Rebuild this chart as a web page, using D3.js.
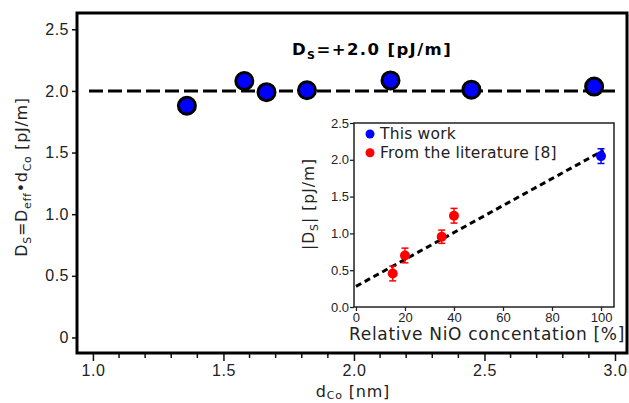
<!DOCTYPE html>
<html><head><meta charset="utf-8">
<script src="https://cdn.jsdelivr.net/npm/d3@7"></script>
<style>body{margin:0;background:#fff}svg{display:block;font-family:"DejaVu Sans",sans-serif}</style>
</head><body><svg id="c" width="629" height="403"></svg>
<script>
// Main panel data
const dCo = [1.36, 1.58, 1.665, 1.82, 2.14, 2.45, 2.92];
const Ds = [1.88, 2.08, 1.99, 2.005, 2.085, 2.01, 2.035];
const DsMean = 2.0;
const mainXTicks = [1.0, 1.5, 2.0, 2.5, 3.0];
const mainYTicks = [0, 0.5, 1.0, 1.5, 2.0, 2.5];
const mainYTickLabels = ["0", "0.5", "1.0", "1.5", "2.0", "2.5"];
// Inset data
const litConc = [15, 20, 35, 40];
const litDs = [0.455, 0.70, 0.955, 1.24];
const litErr = [0.1, 0.1, 0.09, 0.1];
const thisConc = [100];
const thisDs = [2.05];
const thisErr = [0.1];
const fitIntercept = 0.28, fitSlope = 0.0183;
const fitRange = [0, 101];
const insetXTicks = [0, 20, 40, 60, 80, 100];
const insetYTicks = [0.0, 0.5, 1.0, 1.5, 2.0, 2.5];

const svg = d3.select("#c");
const txt = "#222";

// ---- main ----
const L = 77, R = 627, T = 13, B = 353;
const x = d3.scaleLinear().domain([0.939, 3.046]).range([L, R]);
const y = d3.scaleLinear().domain([-0.126, 2.632]).range([B, T]);

const xAxis = d3.axisBottom(x).tickValues(mainXTicks).tickFormat(d3.format(".1f")).tickSize(8).tickSizeOuter(0);
const gx = svg.append("g").attr("transform", `translate(0,${B})`).call(xAxis);
gx.select(".domain").remove();
gx.selectAll("line").attr("stroke", "#111").attr("stroke-width", 1.5);
gx.selectAll("text").attr("font-size", 16).attr("fill", txt).attr("dy", "0.75em").attr("letter-spacing", 0.5);
// minor ticks
const minor = d3.range(10, 31).map(d => d / 10).filter(d => !mainXTicks.some(t => Math.abs(t - d) < 1e-6));
svg.append("g").selectAll("line").data(minor).join("line")
  .attr("x1", d => x(d)).attr("x2", d => x(d)).attr("y1", B).attr("y2", B + 5)
  .attr("stroke", "#111").attr("stroke-width", 1.5);

const yAxis = d3.axisLeft(y).tickValues(mainYTicks).tickFormat((d, i) => mainYTickLabels[i]).tickSize(5).tickSizeOuter(0);
const gy = svg.append("g").attr("transform", `translate(${L},0)`).call(yAxis);
gy.select(".domain").remove();
gy.selectAll("line").attr("stroke", "#111").attr("stroke-width", 1.5);
gy.selectAll("text").attr("font-size", 16).attr("fill", txt).attr("x", -8).attr("letter-spacing", 0.5);

svg.append("rect").attr("x", L).attr("y", T).attr("width", R - L).attr("height", B - T)
  .attr("fill", "none").attr("stroke", "#000").attr("stroke-width", 3);

// dashed mean line
svg.append("line").attr("x1", x(0.985)).attr("x2", x(3.0)).attr("y1", y(DsMean)).attr("y2", y(DsMean))
  .attr("stroke", "#000").attr("stroke-width", 3).attr("stroke-dasharray", "14,5");

svg.append("g").selectAll("circle").data(dCo).join("circle")
  .attr("cx", d => x(d)).attr("cy", (d, i) => y(Ds[i])).attr("r", 8.5)
  .attr("fill", "#0000ff").attr("stroke", "#000").attr("stroke-width", 3);

// annotation
const ann = svg.append("text").attr("x", 292).attr("y", 55).attr("font-size", 16.5).attr("font-weight", "bold").attr("fill", "#000").attr("letter-spacing", 1.4);
ann.append("tspan").text("D");
ann.append("tspan").text("S").attr("font-size", 11).attr("dy", 4);
ann.append("tspan").text("=+2.0 [pJ/m]").attr("dy", -4);

// y label
const yl = svg.append("text").attr("transform", "translate(27,177) rotate(-90)").attr("text-anchor", "middle")
  .attr("font-size", 16).attr("fill", txt).attr("letter-spacing", 0.7);
yl.append("tspan").text("D");
yl.append("tspan").text("S").attr("font-size", 11).attr("dy", 4);
yl.append("tspan").text("=D").attr("dy", -4);
yl.append("tspan").text("eff").attr("font-size", 11).attr("dy", 4);
yl.append("tspan").text("•d").attr("dy", -4);
yl.append("tspan").text("Co").attr("font-size", 11).attr("dy", 4);
yl.append("tspan").text(" [pJ/m]").attr("dy", -4);

// x label
const xl = svg.append("text").attr("x", 353).attr("y", 396.5).attr("text-anchor", "middle").attr("font-size", 16).attr("fill", txt).attr("letter-spacing", 0.8);
xl.append("tspan").text("d");
xl.append("tspan").text("Co").attr("font-size", 11).attr("dy", 2.5);
xl.append("tspan").text(" [nm]").attr("dy", -2.5);

// ---- inset ----
const iL = 354, iR = 614, iT = 123, iB = 307;
const ix = d3.scaleLinear().domain([-0.8, 105.3]).range([iL, iR]);
const iy = d3.scaleLinear().domain([0, 2.5]).range([iB, iT]);

svg.append("rect").attr("x", iL).attr("y", iT).attr("width", iR - iL).attr("height", iB - iT)
  .attr("fill", "#fff").attr("stroke", "#222").attr("stroke-width", 1.5);

const igx = svg.append("g").attr("transform", `translate(0,${iB})`)
  .call(d3.axisBottom(ix).tickValues(insetXTicks).tickSize(4).tickSizeOuter(0));
igx.select(".domain").remove();
igx.selectAll("line").attr("stroke", "#222").attr("stroke-width", 1.3);
igx.selectAll("text").attr("font-size", 13).attr("fill", txt).attr("dy", "0.6em");

const igy = svg.append("g").attr("transform", `translate(${iL},0)`)
  .call(d3.axisLeft(iy).tickValues(insetYTicks).tickFormat(d3.format(".1f")).tickSize(4).tickSizeOuter(0));
igy.select(".domain").remove();
igy.selectAll("line").attr("stroke", "#222").attr("stroke-width", 1.3);
igy.selectAll("text").attr("font-size", 13).attr("fill", txt).attr("x", -5);

// fit line
svg.append("line").attr("x1", ix(fitRange[0])).attr("y1", iy(fitIntercept + fitSlope * fitRange[0]))
  .attr("x2", ix(fitRange[1])).attr("y2", iy(fitIntercept + fitSlope * fitRange[1]))
  .attr("stroke", "#000").attr("stroke-width", 3).attr("stroke-dasharray", "6,4");

function errPts(conc, vals, errs, color) {
  const g = svg.append("g");
  conc.forEach((c, i) => {
    const cx = ix(c), v = vals[i], e = errs[i];
    g.append("line").attr("x1", cx).attr("x2", cx).attr("y1", iy(v - e)).attr("y2", iy(v + e)).attr("stroke", color).attr("stroke-width", 1.5);
    [v - e, v + e].forEach(w => g.append("line").attr("x1", cx - 3.5).attr("x2", cx + 3.5).attr("y1", iy(w)).attr("y2", iy(w)).attr("stroke", color).attr("stroke-width", 1.5));
    g.append("circle").attr("cx", cx).attr("cy", iy(v)).attr("r", 5).attr("fill", color);
  });
}
errPts(litConc, litDs, litErr, "#ff0000");
errPts(thisConc, thisDs, thisErr, "#0000ff");

// legend
const legend = [["This work", "#0000ff"], ["From the literature [8]", "#ff0000"]];
legend.forEach((d, i) => {
  svg.append("circle").attr("cx", 370).attr("cy", 134 + i * 18.7).attr("r", 4.5).attr("fill", d[1]);
  svg.append("text").attr("x", 380).attr("y", 134 + i * 18.7).attr("dy", "0.35em").attr("font-size", 15.5).attr("fill", txt).attr("letter-spacing", 0.2).text(d[0]);
});

// inset labels
const iyl = svg.append("text").attr("transform", "translate(314,204) rotate(-90)").attr("text-anchor", "middle").attr("font-size", 15.5).attr("fill", txt).attr("letter-spacing", 1);
iyl.append("tspan").text("|D");
iyl.append("tspan").text("S").attr("font-size", 11).attr("dy", 4);
iyl.append("tspan").text("| [pJ/m]").attr("dy", -4);

svg.append("text").attr("x", 487).attr("y", 340).attr("text-anchor", "middle").attr("font-size", 17).attr("fill", txt).attr("letter-spacing", 0.7)
  .text("Relative NiO concentation [%]");
</script></body></html>
